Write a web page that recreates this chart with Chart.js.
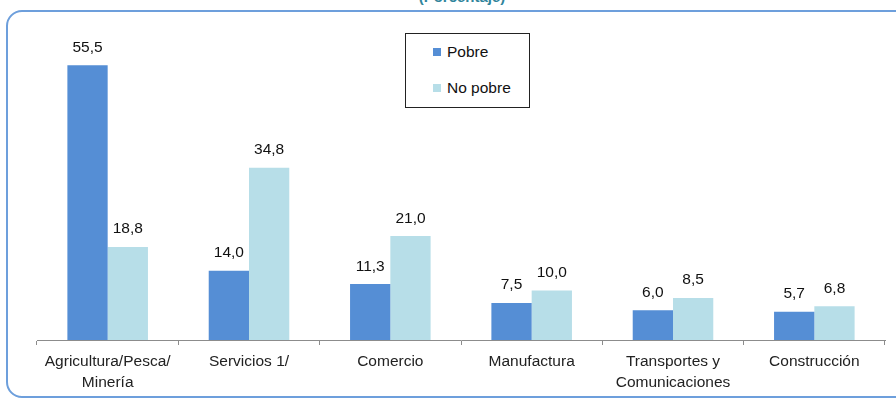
<!DOCTYPE html>
<html>
<head>
<meta charset="utf-8">
<script src="https://cdn.jsdelivr.net/npm/chart.js@4.4.1/dist/chart.umd.min.js"></script>
<style>
  html, body { margin: 0; padding: 0; background: #fff; overflow: hidden; }
  body { width: 896px; height: 401px; position: relative; font-family: "Liberation Sans", Arial, sans-serif; }
  #frame {
    position: absolute; left: 6px; top: 10px; width: 920px; height: 388px;
    border: 2px solid #6d9fdc; border-radius: 16px; box-sizing: border-box;
  }
  #title {
    position: absolute; left: 0; width: 924px; top: -12px; text-align: center;
    color: #31859c; font-size: 15px; font-weight: bold;
  }
  #legend {
    position: absolute; left: 405px; top: 33px; width: 125px; height: 75px;
    border: 1px solid #222; box-sizing: border-box; background: #fff;
    font-size: 15.5px; color: #111;
  }
  #legend .item { position: absolute; left: 27px; line-height: 18px; }
  #legend .sw { display: inline-block; width: 8px; height: 8px; margin-right: 6px; vertical-align: 1px; }
  canvas { position: absolute; left: 0; top: 0; }
</style>
</head>
<body>
<div id="title">(Porcentaje)</div>
<div id="frame"></div>
<canvas id="chart" width="896" height="401"></canvas>
<div id="legend"></div>
<script>
  const categories = [
    ['Agricultura/Pesca/', 'Minería'],
    'Servicios 1/',
    'Comercio',
    'Manufactura',
    ['Transportes y', 'Comunicaciones'],
    'Construcción'
  ];
  const pobre = [55.5, 14.0, 11.3, 7.5, 6.0, 5.7];
  const noPobre = [18.8, 34.8, 21.0, 10.0, 8.5, 6.8];
  const seriesNames = ['Pobre', 'No pobre'];
  const seriesColors = ['#558ed5', '#b7dee8'];

  // legend box (html so text stays text)
  const legend = document.getElementById('legend');
  seriesNames.forEach((name, i) => {
    const item = document.createElement('div');
    item.className = 'item';
    item.style.top = (i === 0 ? 9 : 45) + 'px';
    item.innerHTML = '<span class="sw" style="background:' + seriesColors[i] + '"></span>' + name;
    legend.appendChild(item);
  });

  const valueLabels = {
    id: 'valueLabels',
    afterDatasetsDraw(chart) {
      const ctx = chart.ctx;
      ctx.save();
      ctx.font = '15.5px "Liberation Sans", Arial, sans-serif';
      ctx.fillStyle = '#111';
      ctx.textAlign = 'center';
      ctx.textBaseline = 'bottom';
      chart.data.datasets.forEach((ds, di) => {
        chart.getDatasetMeta(di).data.forEach((bar, i) => {
          ctx.fillText(ds.data[i].toFixed(1).replace('.', ','), bar.x, bar.y - 10);
        });
      });
      ctx.restore();
    }
  };

  new Chart(document.getElementById('chart'), {
    type: 'bar',
    data: {
      labels: categories,
      datasets: [
        { label: seriesNames[0], data: pobre, backgroundColor: seriesColors[0] },
        { label: seriesNames[1], data: noPobre, backgroundColor: seriesColors[1] }
      ]
    },
    options: {
      responsive: false,
      animation: false,
      layout: { padding: { left: 37, right: 11, top: 43, bottom: 0 } },
      datasets: { bar: { categoryPercentage: 0.57, barPercentage: 1.0 } },
      plugins: { legend: { display: false }, tooltip: { enabled: false } },
      scales: {
        x: {
          afterFit: s => { s.height = 61; },
          grid: { drawOnChartArea: false, tickLength: 5, color: '#8c8c8c', offset: true },
          border: { color: '#8c8c8c', width: 1 },
          ticks: {
            color: '#222', padding: 7, maxRotation: 0, autoSkip: false,
            font: { family: '"Liberation Sans", Arial, sans-serif', size: 15.5, lineHeight: 1.3 }
          }
        },
        y: { display: false, min: 0, max: 60 }
      }
    },
    plugins: [valueLabels]
  });
</script>
</body>
</html>
